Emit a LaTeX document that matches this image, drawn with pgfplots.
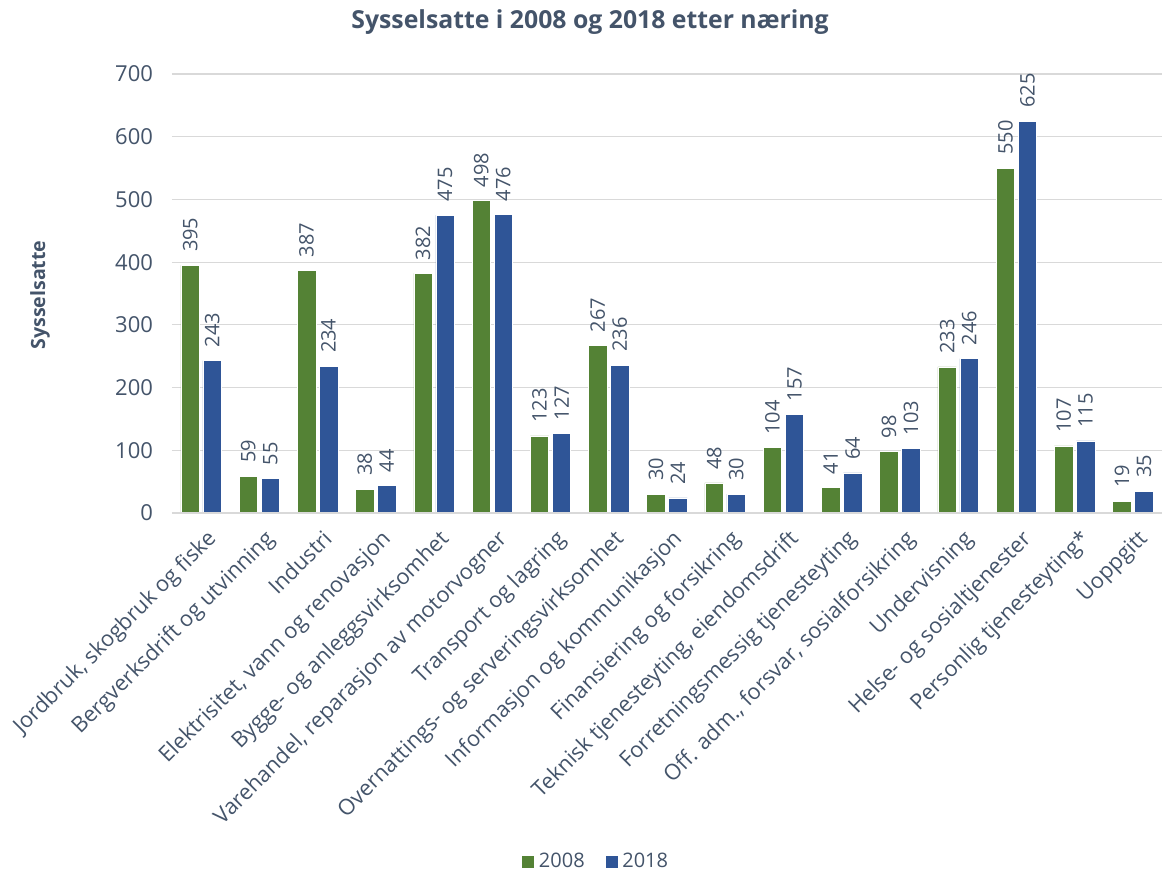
\documentclass[border=0pt]{standalone}
\usepackage{pgfplots}
\pgfplotsset{compat=1.18}
\usepackage{fontspec}
\setmainfont{Open Sans}
\definecolor{cgreen}{HTML}{548235}
\definecolor{cblue}{HTML}{2F5597}
\definecolor{ctext}{HTML}{44546A}
\definecolor{cgrid}{HTML}{D9D9D9}
\begin{document}
\begin{tikzpicture}
\useasboundingbox (-86pt,-181pt) rectangle (495pt,256.5pt);
\begin{axis}[
  at={(0,0)}, anchor=south west,
  scale only axis, width=495pt, height=219.5pt,
  xmin=-0.5, xmax=16.5, ymin=0, ymax=700,
  ybar, bar width=9.25pt,
  axis line style={draw=none},
  ytick={0,100,...,700},
  ymajorgrids, grid style={cgrid, line width=0.6pt},
  major tick length=0pt,
  xtick=data,
  xticklabels={{Jordbruk, skogbruk og fiske},Bergverksdrift og utvinning,Industri,{Elektrisitet, vann og renovasjon},Bygge- og anleggsvirksomhet,{Varehandel, reparasjon av motorvogner},Transport og lagring,Overnattings- og serveringsvirksomhet,Informasjon og kommunikasjon,Finansiering og forsikring,{Teknisk tjenesteyting, eiendomsdrift},Forretningsmessig tjenesteyting,{Off. adm., forsvar, sosialforsikring},Undervisning,Helse- og sosialtjenester,Personlig tjenesteyting*,Uoppgitt},
  xticklabel style={xshift=2pt, yshift=-6pt, rotate=45, anchor=north east, font=\fontsize{10.9}{12}\selectfont, text=ctext, inner sep=1pt},
  yticklabel style={font=\fontsize{11}{13}\selectfont, text=ctext, xshift=-6pt},
  /pgf/number format/assume math mode=true,
  nodes near coords,
  nodes near coords style={rotate=90, anchor=west, font=\fontsize{10}{11}\selectfont, text=ctext, inner ysep=2pt, inner xsep=6.5pt},
  legend style={at={(0.429,-0.795)}, anchor=center, draw=none, legend columns=2, font=\fontsize{10}{12}\selectfont, text=ctext, /tikz/every even column/.append style={column sep=8pt}},
  legend image code/.code={\fill[#1] (0pt,-3.25pt) rectangle (6.5pt,3.25pt);},
  clip=false,
]
\addplot[fill=cgreen, draw=white, line width=0.3pt, bar shift=-5.5pt] coordinates {
(0,395) (1,59) (2,387) (3,38) (4,382) (5,498) (6,123) (7,267) (8,30) (9,48) (10,104) (11,41) (12,98) (13,233) (14,550) (15,107) (16,19)};
\addplot[fill=cblue, draw=white, line width=0.3pt, bar shift=5.5pt] coordinates {
(0,243) (1,55) (2,234) (3,44) (4,475) (5,476) (6,127) (7,236) (8,24) (9,30) (10,157) (11,64) (12,103) (13,246) (14,625) (15,115) (16,35)};
\legend{2008,2018}
\draw[cgrid, line width=1.2pt] (rel axis cs:0,0) -- (rel axis cs:1,0);
\end{axis}
\node[font=\bfseries\fontsize{12.4}{14}\selectfont, text=ctext] at (209pt,245.5pt) {Sysselsatte i 2008 og 2018 etter næring};
\node[font=\bfseries\fontsize{9.8}{12}\selectfont, text=ctext, rotate=90] at (-66pt,109pt) {Sysselsatte};
\end{tikzpicture}
\end{document}
